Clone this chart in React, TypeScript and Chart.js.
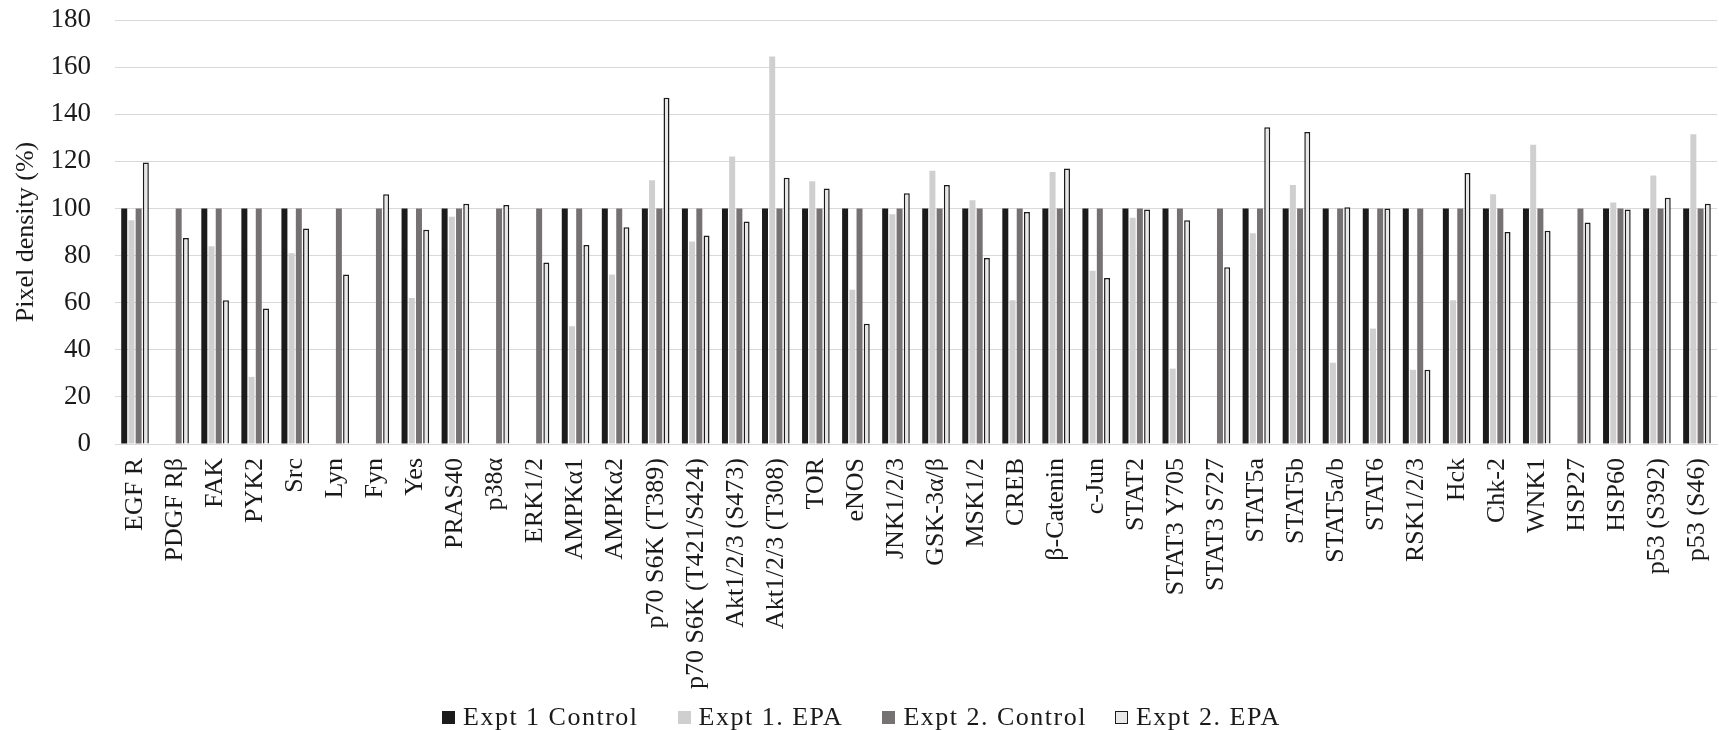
import React, { useEffect, useRef } from "react";
import { Chart, registerables } from "chart.js";

Chart.register(...registerables);

const categories = [
  "EGF R", "PDGF Rβ", "FAK", "PYK2", "Src", "Lyn", "Fyn", "Yes", "PRAS40", "p38α",
  "ERK1/2", "AMPKα1", "AMPKα2", "p70 S6K (T389)", "p70 S6K (T421/S424)", "Akt1/2/3 (S473)",
  "Akt1/2/3 (T308)", "TOR", "eNOS", "JNK1/2/3", "GSK-3α/β", "MSK1/2", "CREB", "β-Catenin",
  "c-Jun", "STAT2", "STAT3 Y705", "STAT3 S727", "STAT5a", "STAT5b", "STAT5a/b", "STAT6",
  "RSK1/2/3", "Hck", "Chk-2", "WNK1", "HSP27", "HSP60", "p53 (S392)", "p53 (S46)",
];

const expt1Control = [
  100, null, 100, 100, 100, null, null, 100, 100, null,
  null, 100, 100, 100, 100, 100, 100, 100, 100, 100,
  100, 100, 100, 100, 100, 100, 100, null, 100, 100,
  100, 100, 100, 100, 100, 100, null, 100, 100, 100,
];

const expt1EPA = [
  95, null, 84, 28.5, 81, null, null, 62, 96.5, null,
  null, 50, 72, 112, 86, 122, 164.5, 111.5, 65.5, 97.5,
  116, 103.5, 61, 115.5, 73.5, 96, 32, null, 89.5, 110,
  34.5, 49, 31.5, 61, 106, 127, null, 102.5, 114, 131.5,
];

const expt2Control = [
  100, 100, 100, 100, 100, 100, 100, 100, 100, 100,
  100, 100, 100, 100, 100, 100, 100, 100, 100, 100,
  100, 100, 100, 100, 100, 100, 100, 100, 100, 100,
  100, 100, 100, 100, 100, 100, 100, 100, 100, 100,
];

const expt2EPA = [
  119.5, 87.5, 61, 57.5, 91.5, 72, 106, 91, 102, 101.5,
  77, 84.5, 92, 147, 88.5, 94.5, 113, 108.5, 51, 106.5,
  110, 79, 98.5, 117, 70.5, 99.5, 95, 75, 134.5, 132.5,
  100.5, 100, 31.5, 115, 90, 90.5, 94, 99.5, 104.5, 102,
];

const seriesLabels = ["Expt 1 Control", "Expt 1. EPA", "Expt 2. Control", "Expt 2. EPA"];
const seriesColors = ["#1b1b1b", "#cfcfcf", "#767274", "#e8e8e8"];
const seriesBorders = ["#1b1b1b", "#cfcfcf", "#767274", "#1b1b1b"];
const yTicks = [0, 20, 40, 60, 80, 100, 120, 140, 160, 180];

const FONT = "'Liberation Serif', 'Times New Roman', serif";

export default function App() {
  const canvasRef = useRef<HTMLCanvasElement | null>(null);

  useEffect(() => {
    const canvas = canvasRef.current;
    if (!canvas) return;
    const seriesData = [expt1Control, expt1EPA, expt2Control, expt2EPA];
    const chart = new Chart(canvas, {
      type: "bar",
      data: {
        labels: categories,
        datasets: seriesData.map((d, i) => ({
          label: seriesLabels[i],
          data: d,
          backgroundColor: seriesColors[i],
          borderColor: seriesBorders[i],
          borderWidth: i === 3 ? 1.5 : 0,
          categoryPercentage: 0.72,
          barPercentage: 0.83,
        })),
      },
      options: {
        animation: false,
        responsive: true,
        maintainAspectRatio: false,
        layout: { padding: { top: 20, right: 2, left: 0, bottom: 0 } },
        plugins: {
          legend: { display: false },
          tooltip: { enabled: false },
        },
        scales: {
          x: {
            grid: { display: false },
            border: { display: true, color: "#d9d9d9", width: 1 },
            ticks: {
              autoSkip: false,
              maxRotation: 90,
              minRotation: 90,
              padding: 6,
              color: "#1a1a1a",
              font: { family: FONT, size: 26 },
            },
            afterFit: (scale: any) => {
              scale.height = 286;
              scale.paddingLeft = 0;
              scale.paddingRight = 0;
            },
          },
          y: {
            min: 0,
            max: 180,
            afterBuildTicks: (scale: any) => {
              scale.ticks = yTicks.map((v) => ({ value: v }));
            },
            grid: { color: "#d9d9d9", lineWidth: 1, drawTicks: false },
            border: { display: false },
            ticks: {
              padding: 24,
              color: "#1a1a1a",
              font: { family: FONT, size: 27 },
            },
            title: {
              display: true,
              text: "Pixel density (%)",
              color: "#1a1a1a",
              font: { family: FONT, size: 26 },
              padding: { top: 11, bottom: 0 },
            },
            afterFit: (scale: any) => {
              scale.width = 115;
              scale.paddingTop = 0;
              scale.paddingBottom = 0;
            },
          },
        },
      },
    });
    return () => chart.destroy();
  }, []);

  return (
    <div style={{ position: "absolute", left: 0, top: 0, width: 1719, height: 730, background: "#fff" }}>
      <canvas ref={canvasRef} />
      <div
        style={{
          position: "absolute",
          left: 442,
          top: 703,
          display: "flex",
          alignItems: "center",
          fontFamily: FONT,
          fontSize: 26,
          lineHeight: "28px",
          letterSpacing: "1.5px",
          color: "#1a1a1a",
          whiteSpace: "nowrap",
        }}
      >
        {seriesLabels.map((l, i) => (
          <div
            key={l}
            style={{ display: "flex", alignItems: "center", marginLeft: i === 0 ? 0 : i === 3 ? 28 : 39 }}
          >
            <span
              style={{
                display: "inline-block",
                width: i === 3 ? 11 : 13,
                height: i === 3 ? 11 : 13,
                background: seriesColors[i],
                border: i === 3 ? "1px solid #1b1b1b" : "none",
                marginRight: 8,
              }}
            />
            <span>{l}</span>
          </div>
        ))}
      </div>
    </div>
  );
}
